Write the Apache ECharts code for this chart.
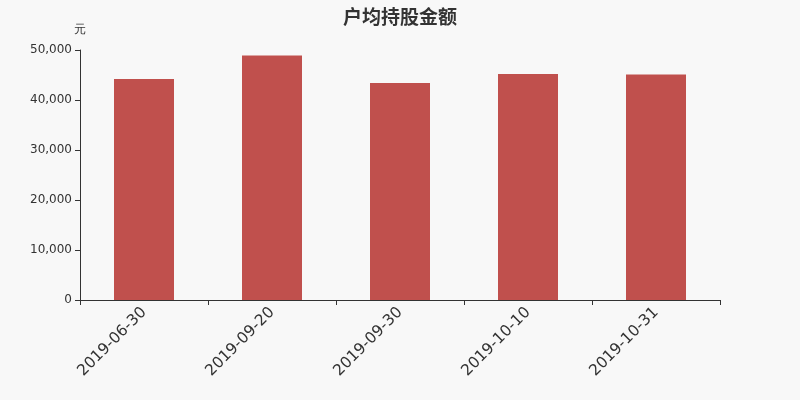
<!DOCTYPE html>
<html><head><meta charset="utf-8">
<script src="https://cdn.jsdelivr.net/npm/echarts@6/dist/echarts.min.js"></script>
<style>html,body{margin:0;padding:0;background:#f8f8f8}#c{width:800px;height:400px}</style>
</head><body><div id="c"></div>
<script>
var categories = ['2019-06-30','2019-09-20','2019-09-30','2019-10-10','2019-10-31'];
var values = [44200, 48900, 43400, 45200, 45100];
var chart = echarts.init(document.getElementById('c'));
chart.setOption({
  backgroundColor: '#f8f8f8',
  title: {text: '户均持股金额', left: 'center', top: 2, textStyle: {fontSize: 19, fontWeight: 'bold', color: '#333', fontFamily: 'Noto Sans CJK SC'}},
  grid: {left: 80, right: 80, top: 50, bottom: 100},
  xAxis: {
    type: 'category', data: categories,
    axisLine: {lineStyle: {color: '#333'}},
    axisTick: {show: true, length: 5, lineStyle: {color: '#333'}},
    axisLabel: {rotate: 45, fontSize: 15.5, color: '#333', margin: 10, fontFamily: 'DejaVu Sans'}
  },
  yAxis: {
    type: 'value', min: 0, max: 50000, interval: 10000,
    name: '元', nameGap: 14, nameTextStyle: {color: '#333', fontSize: 12, align: 'center'},
    axisLine: {show: true, lineStyle: {color: '#333'}},
    axisTick: {show: true, length: 5, lineStyle: {color: '#333'}},
    splitLine: {show: false},
    axisLabel: {color: '#333', fontSize: 12, fontFamily: 'DejaVu Sans', formatter: function(v){return v.toLocaleString('en-US');}}
  },
  series: [{type: 'bar', data: values, barWidth: 60, itemStyle: {color: '#c0504d'}}]
});
</script></body></html>
